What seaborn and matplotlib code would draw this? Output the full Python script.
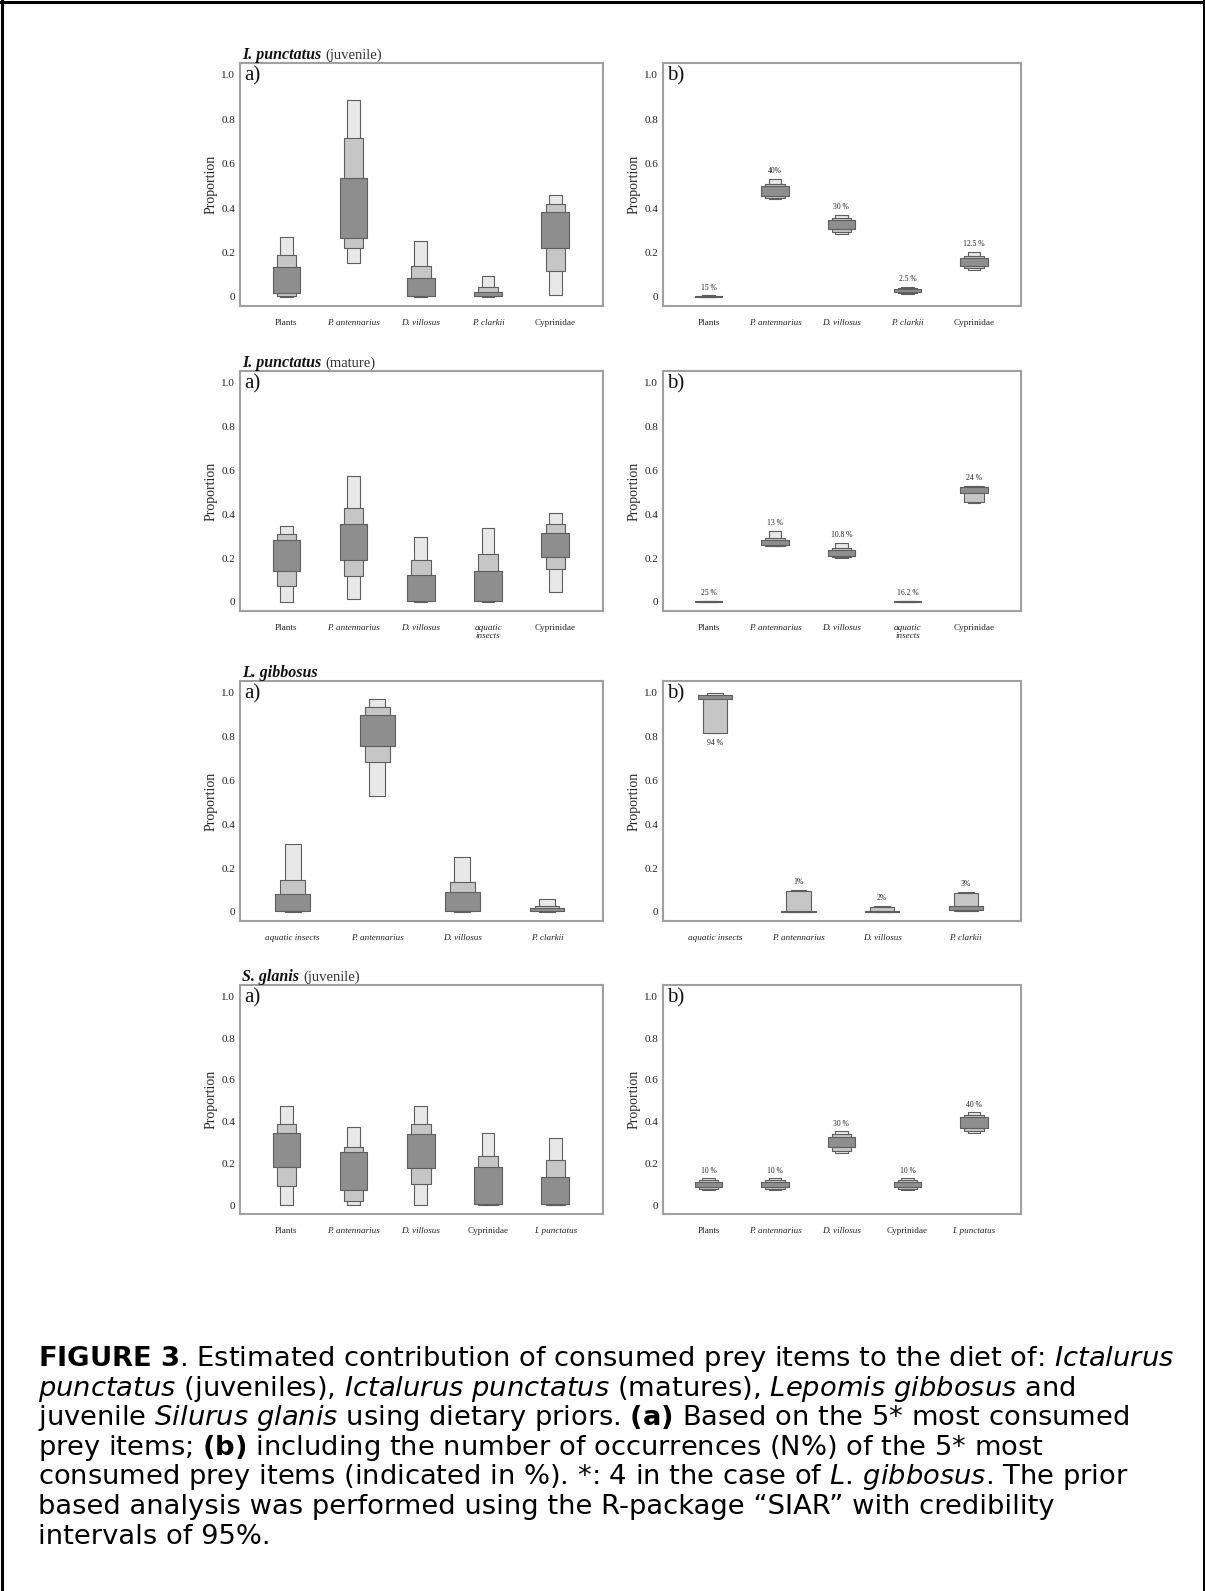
import numpy as np
import matplotlib
matplotlib.use("Agg")
import matplotlib.pyplot as plt
import seaborn as sns
from matplotlib.lines import Line2D

# ---------------- data ----------------
# Row 1 : I. punctatus (juvenile)
cats_r1 = ["Plants", "P. antennarius", "D. villosus", "P. clarkii", "Cyprinidae"]
r1a_light_lo = [0.0, 0.150, 0.0, 0.0, 0.008]
r1a_light_hi = [0.268, 0.887, 0.251, 0.095, 0.459]
r1a_mid_lo = [0.004, 0.218, 0.002, 0.002, 0.117]
r1a_mid_hi = [0.190, 0.714, 0.138, 0.045, 0.417]
r1a_dark_lo = [0.015, 0.263, 0.005, 0.005, 0.218]
r1a_dark_hi = [0.135, 0.537, 0.083, 0.023, 0.383]

r1b_light_lo = [0.0, 0.440, 0.284, 0.012, 0.119]
r1b_light_hi = [0.006, 0.530, 0.370, 0.045, 0.201]
r1b_mid_lo = [0.0, 0.445, 0.290, 0.015, 0.130]
r1b_mid_hi = [0.005, 0.510, 0.355, 0.040, 0.185]
r1b_dark_lo = [0.0, 0.455, 0.305, 0.020, 0.140]
r1b_dark_hi = [0.004, 0.500, 0.345, 0.035, 0.175]
r1b_labels = ["15 %", "40%", "30 %", "2.5 %", "12.5 %"]

# Row 2 : I. punctatus (mature)
cats_r2 = ["Plants", "P. antennarius", "D. villosus", "aquatic\ninsects", "Cyprinidae"]
r2a_light_lo = [0.0, 0.015, 0.0, 0.0, 0.045]
r2a_light_hi = [0.347, 0.576, 0.297, 0.336, 0.407]
r2a_mid_lo = [0.071, 0.118, 0.002, 0.002, 0.151]
r2a_mid_hi = [0.309, 0.430, 0.189, 0.219, 0.354]
r2a_dark_lo = [0.139, 0.189, 0.005, 0.005, 0.204]
r2a_dark_hi = [0.284, 0.354, 0.121, 0.139, 0.312]

r2b_light_lo = [0.0, 0.253, 0.198, 0.0, 0.451]
r2b_light_hi = [0.005, 0.323, 0.268, 0.005, 0.530]
r2b_mid_lo = [0.0, 0.255, 0.203, 0.0, 0.458]
r2b_mid_hi = [0.004, 0.290, 0.245, 0.004, 0.527]
r2b_dark_lo = [0.0, 0.258, 0.210, 0.0, 0.495]
r2b_dark_hi = [0.003, 0.282, 0.238, 0.003, 0.523]
r2b_labels = ["25 %", "13 %", "10.8 %", "16.2 %", "24 %"]

# Row 3 : L. gibbosus
cats_r3 = ["aquatic insects", "P. antennarius", "D. villosus", "P. clarkii"]
r3a_light_lo = [0.0, 0.530, 0.0, 0.0]
r3a_light_hi = [0.309, 0.970, 0.249, 0.060]
r3a_mid_lo = [0.002, 0.686, 0.002, 0.002]
r3a_mid_hi = [0.145, 0.935, 0.137, 0.027]
r3a_dark_lo = [0.005, 0.759, 0.005, 0.005]
r3a_dark_hi = [0.080, 0.899, 0.090, 0.017]

r3b_light_lo = [0.815, 0.0, 0.0, 0.003]
r3b_light_hi = [1.000, 0.100, 0.027, 0.092]
r3b_mid_lo = [0.815, 0.0, 0.0, 0.004]
r3b_mid_hi = [0.985, 0.097, 0.020, 0.088]
r3b_dark_lo = [0.972, 0.0, 0.0, 0.006]
r3b_dark_hi = [0.990, 0.004, 0.004, 0.027]
r3b_labels = ["94 %", "1%", "2%", "3%"]
r3b_label_below = [True, False, False, False]

# Row 4 : S. glanis (juvenile)
cats_r4 = ["Plants", "P. antennarius", "D. villosus", "Cyprinidae", "I. punctatus"]
r4a_light_lo = [0.0, 0.0, 0.0, 0.0, 0.0]
r4a_light_hi = [0.477, 0.374, 0.477, 0.345, 0.324]
r4a_mid_lo = [0.094, 0.020, 0.103, 0.002, 0.002]
r4a_mid_hi = [0.387, 0.278, 0.387, 0.236, 0.218]
r4a_dark_lo = [0.181, 0.075, 0.176, 0.005, 0.005]
r4a_dark_hi = [0.348, 0.254, 0.340, 0.181, 0.133]

r4b_light_lo = [0.075, 0.075, 0.250, 0.075, 0.345]
r4b_light_hi = [0.130, 0.130, 0.355, 0.130, 0.445]
r4b_mid_lo = [0.078, 0.078, 0.260, 0.078, 0.355]
r4b_mid_hi = [0.120, 0.120, 0.340, 0.120, 0.430]
r4b_dark_lo = [0.088, 0.088, 0.280, 0.088, 0.370]
r4b_dark_hi = [0.112, 0.112, 0.325, 0.112, 0.420]
r4b_labels = ["10 %", "10 %", "30 %", "10 %", "40 %"]

titles_bold = ["I. punctatus", "I. punctatus", "L. gibbosus", "S. glanis"]
titles_rest = ["(juvenile)", "(mature)", "", "(juvenile)"]

yticks = [0, 0.2, 0.4, 0.6, 0.8, 1.0]
ytick_labels = ["0", "0.2", "0.4", "0.6", "0.8", "1.0"]

caption_lines = [
    r"$\mathbf{FIGURE\ 3}$. Estimated contribution of consumed prey items to the diet of: $\mathit{Ictalurus}$",
    r"$\mathit{punctatus}$ (juveniles), $\mathit{Ictalurus\ punctatus}$ (matures), $\mathit{Lepomis\ gibbosus}$ and",
    r"juvenile $\mathit{Silurus\ glanis}$ using dietary priors. $\mathbf{(a)}$ Based on the 5* most consumed",
    r"prey items; $\mathbf{(b)}$ including the number of occurrences (N%) of the 5* most",
    r"consumed prey items (indicated in %). *: 4 in the case of $\mathit{L.\,gibbosus}$. The prior",
    "based analysis was performed using the R-package \u201cSIAR\u201d with credibility",
    "intervals of 95%.",
]

# ---------------- style ----------------
sns.set_theme(style="white")
plt.rcParams["font.family"] = ["Liberation Serif", "DejaVu Serif"]
plt.rcParams["mathtext.fontset"] = "custom"
plt.rcParams["mathtext.rm"] = "DejaVu Sans"
plt.rcParams["mathtext.it"] = "DejaVu Sans:italic"
plt.rcParams["mathtext.bf"] = "DejaVu Sans:bold"

C_LIGHT, C_MID, C_DARK = "#e8e8e8", "#c6c6c6", "#8e8e8e"
EDGE = "#5e5e5e"
W_LIGHT, W_MID, W_DARK = 0.19, 0.29, 0.41
SPINE = "#a0a0a0"

W, H = 1205, 1591
fig = plt.figure(figsize=(W / 100, H / 100), dpi=100)


def fx(px):
    return px / W


def fy(py):
    return 1 - py / H


rows_px = [(63, 306), (371, 611), (681, 921), (985, 1214)]
left_x = (240, 603)
right_x = (663, 1021)

panels = [
    (cats_r1,
     (r1a_light_lo, r1a_light_hi, r1a_mid_lo, r1a_mid_hi, r1a_dark_lo, r1a_dark_hi),
     (r1b_light_lo, r1b_light_hi, r1b_mid_lo, r1b_mid_hi, r1b_dark_lo, r1b_dark_hi),
     r1b_labels, [False] * 5),
    (cats_r2,
     (r2a_light_lo, r2a_light_hi, r2a_mid_lo, r2a_mid_hi, r2a_dark_lo, r2a_dark_hi),
     (r2b_light_lo, r2b_light_hi, r2b_mid_lo, r2b_mid_hi, r2b_dark_lo, r2b_dark_hi),
     r2b_labels, [False] * 5),
    (cats_r3,
     (r3a_light_lo, r3a_light_hi, r3a_mid_lo, r3a_mid_hi, r3a_dark_lo, r3a_dark_hi),
     (r3b_light_lo, r3b_light_hi, r3b_mid_lo, r3b_mid_hi, r3b_dark_lo, r3b_dark_hi),
     r3b_labels, r3b_label_below),
    (cats_r4,
     (r4a_light_lo, r4a_light_hi, r4a_mid_lo, r4a_mid_hi, r4a_dark_lo, r4a_dark_hi),
     (r4b_light_lo, r4b_light_hi, r4b_mid_lo, r4b_mid_hi, r4b_dark_lo, r4b_dark_hi),
     r4b_labels, [False] * 5),
]


def draw_boxes(ax, cats, vals):
    ll, lh, ml, mh, dl, dh = [np.asarray(v, float) for v in vals]
    for lo, hi, w, c in [(ll, lh, W_LIGHT, C_LIGHT), (ml, mh, W_MID, C_MID), (dl, dh, W_DARK, C_DARK)]:
        sns.barplot(x=cats, y=hi - lo, order=cats, bottom=lo, width=w, color=c,
                    saturation=1, edgecolor=EDGE, linewidth=0.8, errorbar=None,
                    ax=ax, joinstyle="round")


def style_axes(ax, cats, letter):
    n = len(cats)
    if n == 5:
        ax.set_xlim(-0.69, n - 1 + 0.71)
    else:
        ax.set_xlim(-0.62, n - 1 + 0.66)
    ax.set_ylim(-0.042, 1.054)
    ax.set_yticks(yticks)
    ax.set_yticklabels(ytick_labels)
    ax.set_xticks(range(n))
    ax.set_xticklabels(cats, linespacing=1.0)
    for lab in ax.get_xticklabels():
        if lab.get_text() not in ("Plants", "Cyprinidae"):
            lab.set_fontstyle("italic")
    ax.set_xlabel("")
    ax.set_ylabel("Proportion", fontsize=10, labelpad=3)
    ax.tick_params(axis="both", direction="out", length=2.5, width=0.8, color="#808080",
                   pad=1, colors="#222222")
    ax.tick_params(axis="y", labelsize=8)
    ax.tick_params(axis="x", labelsize=6.6, pad=7)
    for s in ax.spines.values():
        s.set_visible(True)
        s.set_color(SPINE)
        s.set_linewidth(1.5)
    ax.text(0.012, 0.988, letter, transform=ax.transAxes, ha="left", va="top",
            fontsize=15, color="#111111")


renderer = fig.canvas.get_renderer()

for r, (cats, aval, bval, blabels, below) in enumerate(panels):
    top, bot = rows_px[r]
    axa = fig.add_axes([fx(left_x[0]), fy(bot), fx(left_x[1] - left_x[0]), (bot - top) / H])
    axb = fig.add_axes([fx(right_x[0]), fy(bot), fx(right_x[1] - right_x[0]), (bot - top) / H])
    draw_boxes(axa, cats, aval)
    draw_boxes(axb, cats, bval)
    style_axes(axa, cats, "a)")
    style_axes(axb, cats, "b)")
    # percentage labels in panel b
    lo_l, hi_l = bval[0], bval[1]
    for i, lab in enumerate(blabels):
        yv = lo_l[i] - 0.045 if below[i] else hi_l[i] + 0.035
        axb.text(i, yv, lab, ha="center", va="center", fontsize=5.5, color="#222222")
    # title
    t1 = fig.text(fx(242), fy(top - 4), titles_bold[r], fontsize=11.5, fontweight="bold",
                  fontstyle="italic", ha="left", va="baseline", color="#111111")
    if titles_rest[r]:
        bb = t1.get_window_extent(renderer)
        fig.text(bb.x1 / fig.bbox.width + fx(4), fy(top - 4), titles_rest[r], fontsize=10.5,
                 ha="left", va="baseline", color="#333333")

# caption
for i, line in enumerate(caption_lines):
    fig.text(fx(38), fy(1366 + i * 29.6), line, fontsize=19.7, family="DejaVu Sans",
             ha="left", va="baseline", color="black", math_fontfamily="custom")

# outer frame (top, left, right edges)
frame_kw = dict(transform=fig.transFigure, color="black", linewidth=2.2, zorder=10)
fig.add_artist(Line2D([0, 1], [fy(1.5), fy(1.5)], **frame_kw))
fig.add_artist(Line2D([fx(1.5), fx(1.5)], [0, 1], **frame_kw))
fig.add_artist(Line2D([fx(W - 1.5), fx(W - 1.5)], [0, 1], **frame_kw))

fig.savefig("out.png", dpi=100)
